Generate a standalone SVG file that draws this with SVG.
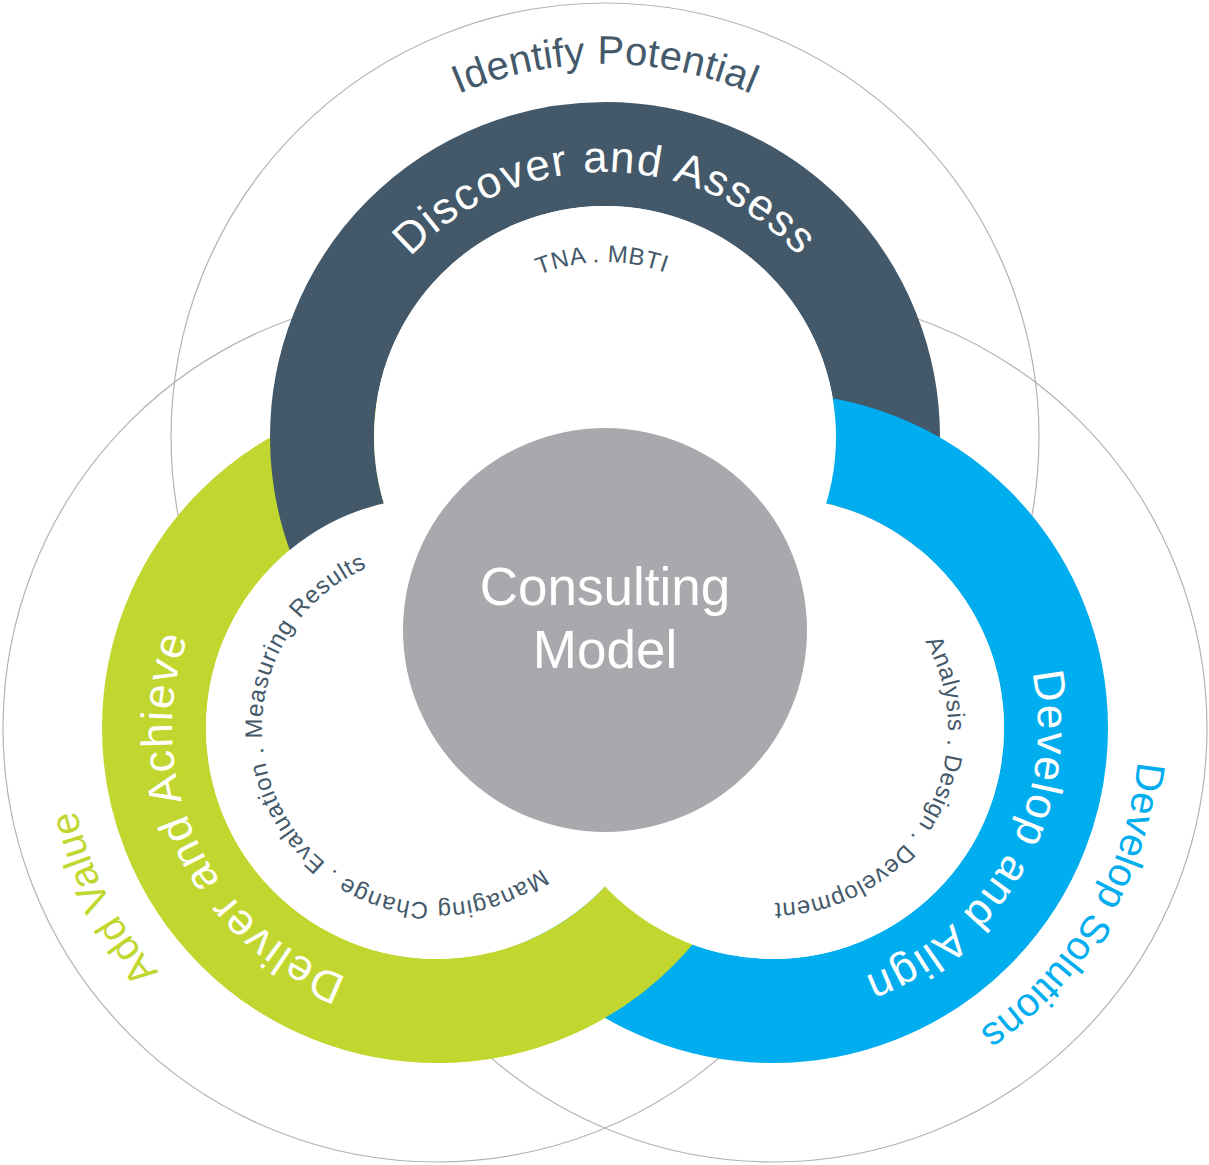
<svg xmlns="http://www.w3.org/2000/svg" xmlns:xlink="http://www.w3.org/1999/xlink" width="1209" height="1165" viewBox="0 0 1209 1165">
  <style>
    .thin { fill: none; stroke: #b3b3b3; stroke-width: 1.2; }
    .ring { fill: none; stroke-width: 104; }
    .dark { stroke: #43596a; }
    .blue { stroke: #00adee; }
    .green { stroke: #c1d72f; }
    .hole { fill: #ffffff; }
    .txt { font-family: "Liberation Sans", Arial, Helvetica, sans-serif; text-anchor: middle; }
    .big { font-size: 44px; fill: #ffffff; letter-spacing: 1.5px; }
    .outer { font-size: 40px; letter-spacing: 0.3px; }
    .small { font-size: 24px; fill: #44596a; letter-spacing: 0.6px; }
  </style>
  <defs>
    <path id="r373" d="M0,373 A373,373 0 1 1 0,-373 A373,373 0 1 1 0,373"/>
    <path id="r370" d="M0,370 A370,370 0 1 1 0,-370 A370,370 0 1 1 0,370"/>
    <path id="r366" d="M0,366 A366,366 0 1 1 0,-366 A366,366 0 1 1 0,366"/>
    <path id="r265" d="M0,265 A265,265 0 1 1 0,-265 A265,265 0 1 1 0,265"/>
    <path id="r175" d="M0,175 A175,175 0 1 1 0,-175 A175,175 0 1 1 0,175"/>
    <clipPath id="bottomOverlap">
      <rect x="440" y="840" width="320" height="240"/>
    </clipPath>
  </defs>

  <g id="outline-circles">
    <circle class="thin" cx="605" cy="437" r="434"/>
    <circle class="thin" cx="437" cy="728" r="434"/>
    <circle class="thin" cx="773" cy="728" r="434"/>
  </g>

  <g id="rings">
    <circle id="ring-deliver" class="ring green" cx="437" cy="728" r="283"/>
    <circle id="ring-discover" class="ring dark" cx="605" cy="437" r="283"/>
    <circle id="ring-develop" class="ring blue" cx="773" cy="728" r="283"/>
    <circle id="ring-deliver-over" class="ring green" cx="437" cy="728" r="283" clip-path="url(#bottomOverlap)"/>
  </g>

  <g id="inner-holes">
    <circle class="hole" cx="605" cy="437" r="231"/>
    <circle class="hole" cx="437" cy="728" r="231"/>
    <circle class="hole" cx="773" cy="728" r="231"/>
  </g>

  <g id="node-center">
    <circle cx="605" cy="630" r="202" fill="#a7a9ac"/>
    <text class="txt" x="605" y="605" font-size="53" fill="#ffffff">Consulting</text>
    <text class="txt" x="605" y="668" font-size="53" fill="#ffffff">Model</text>
  </g>

  <g id="node-discover">
    <text class="txt outer" fill="#44596a" transform="translate(605,437)"><textPath xlink:href="#r373" href="#r373" startOffset="50%">Identify Potential</textPath></text>
    <text class="txt big" transform="translate(605,437)"><textPath xlink:href="#r265" href="#r265" startOffset="50%">Discover and Assess</textPath></text>
    <text class="txt small" transform="translate(605,437) rotate(-1)" style="letter-spacing:0.5px"><textPath xlink:href="#r175" href="#r175" startOffset="50%">TNA . MBTI</textPath></text>
  </g>

  <g id="node-develop">
    <text class="txt outer" fill="#00adee" transform="translate(773,728) rotate(120.5)" style="letter-spacing:0px"><textPath xlink:href="#r366" href="#r366" startOffset="50%">Develop Solutions</textPath></text>
    <text class="txt big" transform="translate(773,728) rotate(119)"><textPath xlink:href="#r265" href="#r265" startOffset="50%">Develop and Align</textPath></text>
    <text class="txt small" transform="translate(773,728) rotate(120)"><textPath xlink:href="#r175" href="#r175" startOffset="50%">Analysis . Design . Development</textPath></text>
  </g>

  <g id="node-deliver">
    <text class="txt outer" fill="#c1d72f" transform="translate(437,728) rotate(243)"><textPath xlink:href="#r370" href="#r370" startOffset="50%">Add Value</textPath></text>
    <text class="txt big" transform="translate(437,728) rotate(245)"><textPath xlink:href="#r265" href="#r265" startOffset="50%">Deliver and Achieve</textPath></text>
    <text class="txt small" transform="translate(437,728) rotate(240)" style="letter-spacing:0.9px"><textPath xlink:href="#r175" href="#r175" startOffset="50%">Managing Change . Evaluation . Measuring Results</textPath></text>
  </g>
</svg>
